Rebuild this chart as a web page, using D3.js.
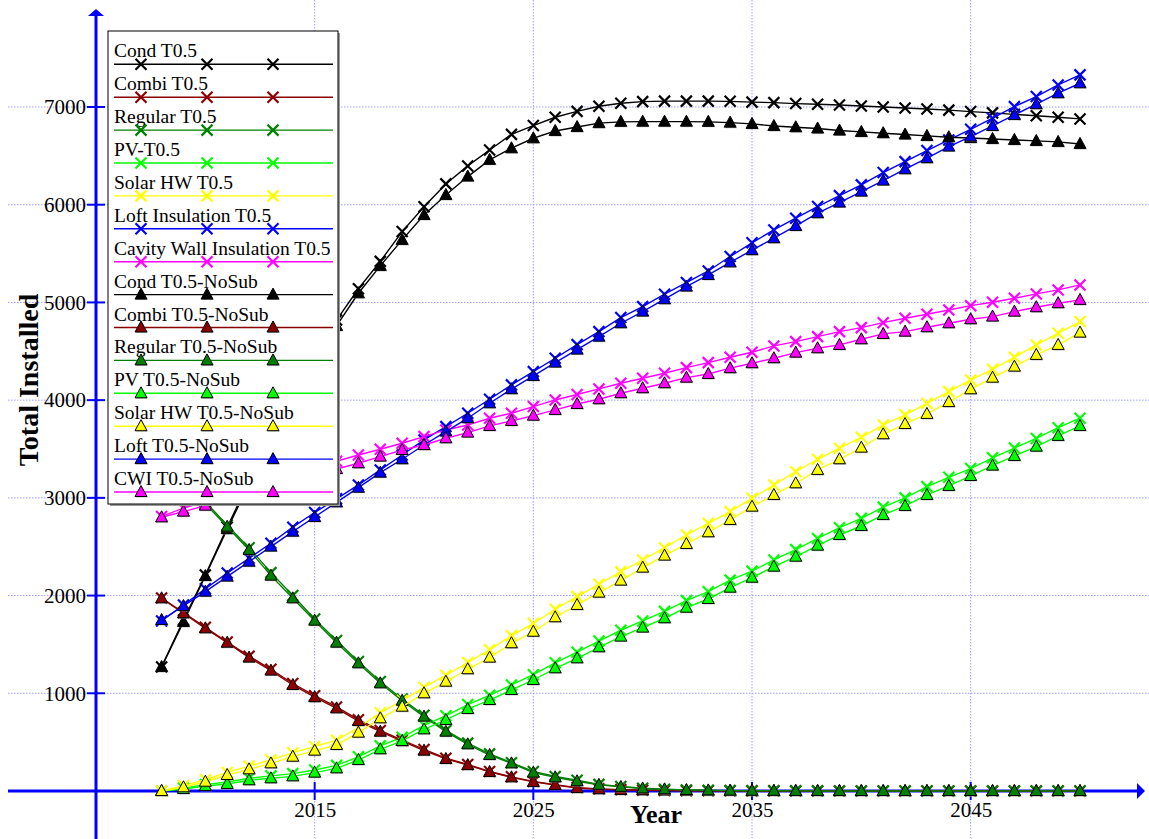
<!DOCTYPE html>
<html><head><meta charset="utf-8">
<script src="https://cdn.jsdelivr.net/npm/d3@7"></script>
<style>
body{margin:0;background:#fff}
svg{display:block}
text{font-family:"Liberation Serif","Times New Roman",serif}
</style></head>
<body><svg id="c" width="1149" height="839"></svg>
<script>
const years = [2008,2009,2010,2011,2012,2013,2014,2015,2016,2017,2018,2019,2020,2021,2022,2023,2024,2025,2026,2027,2028,2029,2030,2031,2032,2033,2034,2035,2036,2037,2038,2039,2040,2041,2042,2043,2044,2045,2046,2047,2048,2049,2050];
const xTickValues = [2015,2025,2035,2045];
const yTickValues = [1000,2000,3000,4000,5000,6000,7000];

const condT05 = [1270,1750,2210,2700,3170,3620,4050,4450,4820,5140,5420,5725,5980,6213,6397,6560,6720,6810,6895,6955,7008,7039,7055,7060,7060,7060,7058,7050,7045,7035,7028,7020,7010,7000,6990,6980,6968,6953,6940,6925,6910,6895,6878];
const combiT05 = [1975,1825,1675,1525,1380,1245,1100,975,860,730,620,520,425,335,272,200,145,98,65,35,22,14,9,6,4,3,2,1,1,0,0,0,0,0,0,0,0,0,0,0,0,0,0];
const regularT05 = [3440,3200,2960,2720,2490,2235,2000,1760,1540,1325,1120,940,775,620,490,380,290,200,148,110,68,46,28,18,11,7,4,3,2,1,1,0,0,0,0,0,0,0,0,0,0,0,0];
const pvT05 = [0,30,65,92,130,155,178,215,262,350,462,550,672,770,885,980,1085,1190,1312,1420,1535,1645,1740,1838,1948,2040,2158,2250,2365,2470,2585,2695,2790,2905,3000,3115,3210,3300,3410,3510,3608,3718,3815];
const solarT05 = [0,55,115,190,255,320,390,455,520,650,800,925,1060,1185,1315,1445,1590,1715,1860,1989,2116,2245,2364,2490,2620,2740,2859,2995,3132,3268,3395,3508,3620,3746,3849,3968,4087,4207,4316,4439,4565,4684,4804];
const loftT05 = [1740,1904,2070,2230,2382,2535,2700,2850,2990,3132,3286,3439,3593,3729,3866,4009,4156,4292,4429,4568,4701,4845,4957,5084,5203,5322,5470,5610,5742,5862,5981,6093,6203,6329,6441,6554,6663,6772,6885,7004,7107,7226,7329];
const cwiT05 = [2810,2894,2965,3030,3100,3170,3240,3310,3375,3439,3497,3559,3627,3695,3746,3815,3866,3934,4002,4058,4115,4173,4224,4275,4333,4384,4439,4490,4555,4599,4650,4701,4742,4793,4838,4879,4923,4967,5002,5043,5087,5128,5179];

const condNoSub = [1270,1730,2200,2680,3140,3580,4000,4400,4760,5094,5374,5640,5895,6100,6288,6459,6578,6680,6755,6795,6835,6848,6850,6850,6850,6848,6840,6827,6806,6793,6780,6759,6745,6732,6718,6704,6691,6682,6673,6663,6653,6643,6622];
const combiNoSub = [1972,1819,1665,1518,1365,1232,1085,960,846,716,607,510,413,328,265,195,140,93,62,30,18,11,7,5,3,2,1,1,0,0,0,0,0,0,0,0,0,0,0,0,0,0,0];
const regularNoSub = [3420,3180,2940,2705,2467,2204,1972,1743,1518,1307,1102,924,761,607,478,368,283,188,140,100,63,42,26,17,10,6,4,3,2,1,0,0,0,0,0,0,0,0,0,0,0,0,0];
const pvNoSub = [0,20,51,72,110,130,150,188,232,317,427,512,631,727,839,931,1034,1136,1256,1358,1471,1580,1672,1768,1876,1965,2081,2183,2296,2398,2511,2620,2712,2825,2917,3030,3122,3224,3330,3429,3524,3634,3736];
const solarNoSub = [0,38,95,164,222,283,351,413,471,597,744,863,1000,1119,1246,1365,1512,1630,1778,1904,2030,2153,2286,2409,2528,2648,2774,2910,3030,3149,3286,3395,3514,3651,3756,3859,3980,4111,4230,4343,4463,4565,4691];
const loftNoSub = [1750,1894,2040,2194,2347,2501,2654,2804,2954,3104,3258,3395,3541,3678,3815,3968,4112,4248,4384,4517,4650,4787,4906,5033,5162,5281,5410,5535,5657,5783,5913,6022,6134,6247,6363,6476,6595,6697,6806,6919,7029,7141,7243];
const cwiNoSub = [2801,2859,2920,2985,3050,3115,3175,3235,3295,3354,3422,3490,3541,3610,3668,3736,3787,3841,3900,3961,4009,4071,4122,4173,4230,4268,4327,4378,4429,4486,4531,4565,4623,4678,4701,4746,4787,4828,4855,4906,4951,4992,5026];

const seriesNames = ["Cond T0.5","Combi T0.5","Regular T0.5","PV-T0.5","Solar HW T0.5","Loft Insulation T0.5","Cavity Wall Insulation T0.5",
  "Cond T0.5-NoSub","Combi T0.5-NoSub","Regular T0.5-NoSub","PV T0.5-NoSub","Solar HW T0.5-NoSub","Loft T0.5-NoSub","CWI T0.5-NoSub"];
const seriesValues = [condT05,combiT05,regularT05,pvT05,solarT05,loftT05,cwiT05,
  condNoSub,combiNoSub,regularNoSub,pvNoSub,solarNoSub,loftNoSub,cwiNoSub];
const palette = ["#000000","#8b0000","#008000","#00ff00","#ffff00","#0000ff","#ff00ff"];
const seriesColors = palette.concat(palette);
const seriesMarkers = ["x","x","x","x","x","x","x","tri","tri","tri","tri","tri","tri","tri"];

const svg = d3.select("#c");
const x = d3.scaleLinear().domain([2005, 2050]).range([96, 1080]);
const y = d3.scaleLinear().domain([0, 7000]).range([791, 107]);
const AX = "#0000ff";

// grid
const grid = svg.append("g");
grid.selectAll("line.h").data(yTickValues).join("line").attr("class","h")
  .attr("x1",8).attr("x2",1149).attr("y1",d=>y(d)).attr("y2",d=>y(d))
  .attr("stroke","#9d9dff").attr("stroke-width",1).attr("stroke-dasharray","1.5,1.5");
grid.selectAll("line.v").data(xTickValues).join("line").attr("class","v")
  .attr("x1",d=>x(d)).attr("x2",d=>x(d)).attr("y1",0).attr("y2",839)
  .attr("stroke","#9d9dff").attr("stroke-width",1).attr("stroke-dasharray","1.5,1.5");

// axes lines
svg.append("line").attr("x1",8).attr("x2",1139).attr("y1",y(0)).attr("y2",y(0)).attr("stroke",AX).attr("stroke-width",3);
svg.append("line").attr("x1",x(2005)).attr("x2",x(2005)).attr("y1",839).attr("y2",14).attr("stroke",AX).attr("stroke-width",3);
svg.append("path").attr("d",`M1145,${y(0)}L1137,${y(0)-8}L1137,${y(0)+8}Z`).attr("fill",AX);
svg.append("path").attr("d",`M${x(2005)},9L${x(2005)-8},16L${x(2005)+8},16Z`).attr("fill",AX);

// ticks crossing axes
svg.append("g").selectAll("line").data(yTickValues).join("line")
  .attr("x1",x(2005)-9).attr("x2",x(2005)+9).attr("y1",d=>y(d)).attr("y2",d=>y(d))
  .attr("stroke",AX).attr("stroke-width",2);
svg.append("g").selectAll("line").data(xTickValues).join("line")
  .attr("x1",d=>x(d)).attr("x2",d=>x(d)).attr("y1",y(0)-9).attr("y2",y(0)+9)
  .attr("stroke",AX).attr("stroke-width",2);

// tick labels via d3 axes
const yAxis = svg.append("g").attr("transform",`translate(${x(2005)},0)`)
  .call(d3.axisLeft(y).tickValues(yTickValues).tickSize(0).tickPadding(10).tickFormat(d3.format("d")));
yAxis.select(".domain").remove();
yAxis.selectAll("text").attr("font-size",21).attr("fill","#000").style("font-family","'Liberation Serif',serif");
const xAxis = svg.append("g").attr("transform",`translate(0,${y(0)})`)
  .call(d3.axisBottom(x).tickValues(xTickValues).tickSize(0).tickPadding(11).tickFormat(d3.format("d")));
xAxis.select(".domain").remove();
xAxis.selectAll("text").attr("font-size",21).attr("fill","#000").style("font-family","'Liberation Serif',serif");

// axis titles
svg.append("text").attr("x",656).attr("y",823).attr("text-anchor","middle")
  .attr("font-size",26).attr("font-weight","bold").text("Year");
svg.append("text").attr("transform","translate(38,380) rotate(-90)").attr("text-anchor","middle")
  .attr("font-size",28).attr("font-weight","bold").text("Total Installed");

const xPath = "M-5.5,-5.5L5.5,5.5M-5.5,5.5L5.5,-5.5";
const triPath = "M0,-6.5L6,4.5L-6,4.5Z";
function drawMarker(g, kind, color){
  if(kind==="x"){
    g.append("path").attr("d",xPath).attr("stroke",color).attr("stroke-width",2.2).attr("fill","none");
  } else {
    g.append("path").attr("d",triPath).attr("transform","translate(1,1)").attr("fill","#9a9a9a").attr("opacity",0.6);
    g.append("path").attr("d",triPath).attr("fill",color).attr("stroke","#000").attr("stroke-width",1);
  }
}

// series
const line = d3.line().x((d,i)=>x(years[i])).y(d=>y(d));
seriesValues.forEach((vals,si)=>{
  const g = svg.append("g");
  g.append("path").attr("d",line(vals)).attr("fill","none").attr("stroke",seriesColors[si]).attr("stroke-width",1.4);
  vals.forEach((v,i)=>{
    const m = g.append("g").attr("transform",`translate(${x(years[i])},${y(v)})`);
    drawMarker(m, seriesMarkers[si], seriesColors[si]);
  });
});

// legend
const lg = svg.append("g");
lg.append("rect").attr("x",110).attr("y",33).attr("width",230).attr("height",473).attr("fill","#9a9a9a");
lg.append("rect").attr("x",108).attr("y",31).attr("width",230).attr("height",473).attr("fill","#fff").attr("stroke","#000").attr("stroke-width",1);
seriesNames.forEach((name,i)=>{
  const ly = 64.3 + i*32.9;
  lg.append("text").attr("x",114).attr("y",ly-7).attr("font-size",19.5).attr("fill","#000").text(name);
  lg.append("line").attr("x1",114).attr("x2",333).attr("y1",ly).attr("y2",ly).attr("stroke",seriesColors[i]).attr("stroke-width",1.4);
  [141,207,273].forEach(mx=>{
    const m = lg.append("g").attr("transform",`translate(${mx},${ly})`);
    drawMarker(m, seriesMarkers[i], seriesColors[i]);
  });
});
</script></body></html>
